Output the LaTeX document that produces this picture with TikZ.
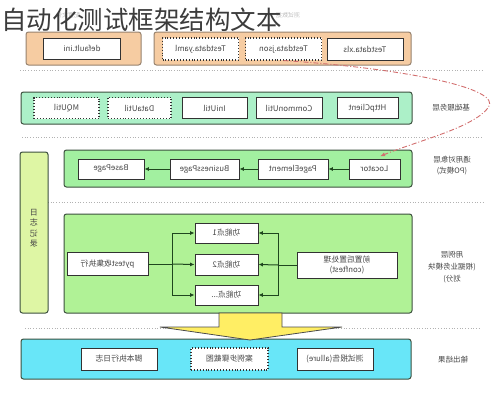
\documentclass[tikz,border=0pt]{standalone}
\usepackage{fontspec}
\setmainfont{Noto Sans CJK SC}
\usepackage{graphicx}
\usetikzlibrary{arrows.meta}
\newcommand{\mr}[1]{\reflectbox{#1}}
\definecolor{orangefill}{RGB}{246,204,162}
\definecolor{orangeline}{RGB}{150,130,110}
\definecolor{mintfill}{RGB}{172,240,200}
\definecolor{greenfill}{RGB}{162,240,160}
\definecolor{limefill}{RGB}{176,242,150}
\definecolor{logfill}{RGB}{222,246,164}
\definecolor{cyanfill}{RGB}{104,230,248}
\definecolor{yellowfill}{RGB}{255,238,100}
\definecolor{layerline}{RGB}{60,80,62}
\definecolor{boxline}{RGB}{50,50,50}
\definecolor{txt}{RGB}{70,70,70}
\definecolor{arrgreen}{RGB}{30,70,30}
\definecolor{redarrow}{RGB}{210,110,110}
\definecolor{titlecol}{RGB}{60,60,60}
\tikzset{
  layer/.style={draw=layerline, line width=1pt, rounded corners=2.5pt},
  olayer/.style={draw=orangeline, fill=orangefill, line width=1pt, rounded corners=2.5pt},
  box/.style={draw=boxline, fill=white, line width=0.9pt, font=\fontsize{7.8}{9.5}\selectfont, text=txt, inner sep=0pt, align=center},
  dbox/.style={box, dotted, line width=1.1pt},
  lbl/.style={font=\fontsize{7.5}{11}\selectfont, text=txt, align=center},
  faint/.style={font=\fontsize{6}{7}\selectfont, text=black!25},
  sep/.style={draw=black!30, dotted, line width=0.7pt},
  arr/.style={-{Latex[length=4.5pt,width=4pt]}, draw=arrgreen, line width=1pt},
  plain/.style={draw=arrgreen, line width=1pt},
  redarr/.style={-{Latex[length=5pt,width=4pt]}, draw=redarrow, line width=0.9pt, dash pattern=on 5pt off 2pt on 1pt off 2pt},
  bigarrow/.style={draw=black!70, fill=yellowfill, line width=0.8pt}
}
\begin{document}
\begin{tikzpicture}[x=1pt,y=-1pt]
\useasboundingbox (0,0) rectangle (496,400);
% faint labels behind title
\node[faint] (cfglbl) at (68,15) {\mr{配置文件}};
\node[faint] (datalbl) at (288,15) {\mr{测试数据}};
% title
\node[anchor=west, inner sep=0pt, text=titlecol, font=\fontsize{25.5}{28}\selectfont] (title) at (1,20) {自动化测试框架结构文本};

% top orange groups
\draw[olayer] (26,32) rectangle (141,65);
\draw[olayer] (154,32) rectangle (411,65);
\node[box, minimum width=77pt, minimum height=21pt] (ini) at (82,48.5) {\mr{default.ini}};
\node[dbox, minimum width=76pt, minimum height=22pt] (yaml) at (200.5,49) {\mr{Testdata.yaml}};
\node[dbox, minimum width=76pt, minimum height=22pt] (json) at (283.5,49) {\mr{Testdata.json}};
\node[box, minimum width=76pt, minimum height=22pt] (xls) at (365,49) {\mr{Testdata.xls}};

% separators
\draw[sep] (20,70) -- (482,70);
\draw[sep] (22,137) -- (483,137);
\draw[sep] (48,202) -- (483,202);
\draw[sep] (25,328) -- (480,328);

% layer 2 basic services
\draw[layer, fill=mintfill] (21,92) rectangle (412,124);
\node[dbox, minimum width=65pt, minimum height=21pt] (mq) at (66.5,108) {\mr{MQUtil}};
\node[dbox, minimum width=63pt, minimum height=21pt] (data) at (139.5,108) {\mr{DataUtil}};
\node[box, minimum width=65pt, minimum height=21pt] (iniu) at (214.5,108) {\mr{IniUtil}};
\node[box, minimum width=66pt, minimum height=21pt] (common) at (289,108) {\mr{CommonUtil}};
\node[box, minimum width=61pt, minimum height=21pt] (http) at (367.5,108) {\mr{HttpClient}};
\node[lbl] (l2) at (451,108) {\mr{基础服务层}};

% log column
\draw[layer, fill=logfill] (20,152) rectangle (48,313);
\node[lbl, font=\fontsize{8}{10.5}\selectfont] (log) at (34,228) {\mr{日}\\\mr{志}\\\mr{记}\\\mr{录}};

% layer 3 PO
\draw[layer, fill=greenfill] (64,150) rectangle (412,187);
\node[box, minimum width=66pt, minimum height=20pt] (base) at (111,169) {\mr{BasePage}};
\node[box, minimum width=69pt, minimum height=20pt] (biz) at (204.5,169) {\mr{BusinessPage}};
\node[box, minimum width=70pt, minimum height=20pt] (pe) at (293,169) {\mr{PageElement}};
\node[box, minimum width=51pt, minimum height=20pt] (loc) at (374.5,169) {\mr{Locator}};
\draw[arr] (loc) -- (pe);
\draw[arr] (pe) -- (biz);
\draw[arr] (biz) -- (base);
\node[lbl] (l3) at (452,166) {\mr{通用对象层}\\\mr{(PO模式)}};

% layer 4 cases
\draw[layer, fill=limefill] (64,214) rectangle (412,313);
\node[box, minimum width=63pt, minimum height=20pt] (f1) at (226.5,233) {\mr{功能点1}};
\node[box, minimum width=63pt, minimum height=21pt] (f2) at (226.5,264.5) {\mr{功能点2}};
\node[box, minimum width=63pt, minimum height=20pt] (f3) at (226.5,295) {\mr{功能点...}};
\node[box, minimum width=81pt, minimum height=23pt] (pyt) at (107.5,264) {\mr{pytest收集执行}};
\node[box, minimum width=100pt, minimum height=26pt] (cf) at (347,265) {\mr{前置后置处理}\\\mr{(conftest)}};
\coordinate (bl) at (172,264);
\coordinate (br) at (278,265);
\draw[plain] (pyt.east) -- (bl);
\draw[arr] (bl) |- (f1.west);
\draw[arr] (bl) -- (f2.west);
\draw[arr] (bl) |- (f3.west);
\draw[plain] (cf.west) -- (br);
\draw[arr] (br) |- (f1.east);
\draw[arr] (br) -- (f2.east);
\draw[arr] (br) |- (f3.east);
\node[lbl, font=\fontsize{7.5}{12}\selectfont] (l4) at (452,267) {\mr{用例层}\\\mr{(根据业务模块}\\\mr{划分)}};

% output layer
\draw[layer, fill=cyanfill] (21,339) rectangle (411,379);
\node[box, minimum width=76pt, minimum height=22pt] (runlog) at (119,359) {\mr{脚本执行日志}};
\node[dbox, minimum width=77pt, minimum height=22pt] (shot) at (229.5,359) {\mr{案例步骤截图}};
\node[box, minimum width=76pt, minimum height=22pt] (report) at (335,359) {\mr{测试报告(allure)}};
\node[lbl] (l5) at (453,360) {\mr{输出结果}};

% big yellow arrow
\draw[bigarrow] (219,313) -- (282,313) -- (282,327) -- (342,327) -- (250,340) -- (160,327) -- (219,327) -- cycle;

% red dashed curve
\draw[redarr, shorten >=6pt] (json.south) .. controls (400,68) and (505,88) .. (488,108) .. controls (472,128) and (420,140) .. (loc.north);
\end{tikzpicture}
\end{document}
